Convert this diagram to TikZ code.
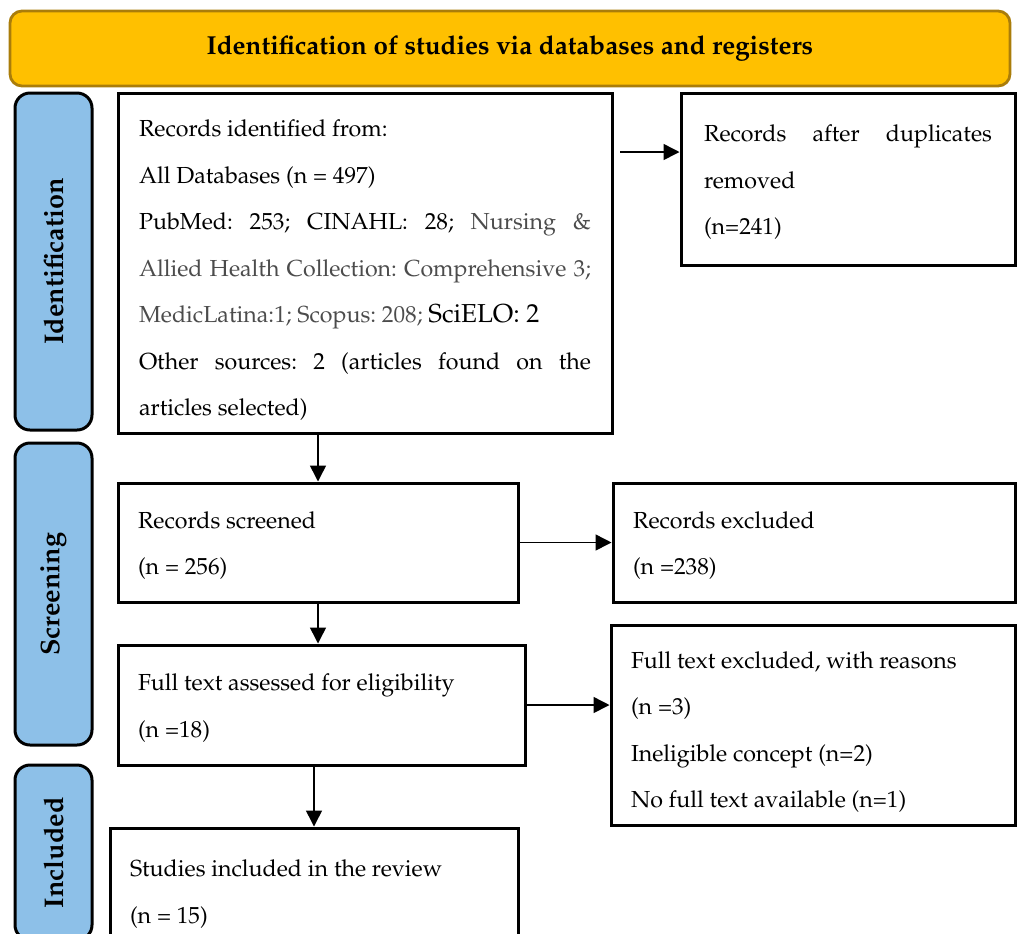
\documentclass[tikz,border=0pt]{standalone}
\usepackage[T1]{fontenc}
\usepackage{mathpazo}
\usepackage{xcolor}
\usetikzlibrary{arrows.meta}
\frenchspacing

\definecolor{headgold}{RGB}{255,192,0}
\definecolor{headedge}{RGB}{170,125,10}
\definecolor{stageblue}{RGB}{141,192,232}

\begin{document}
\begin{tikzpicture}[x=0.5pt, y=-0.5pt,
    head/.style={rectangle, rounded corners=6pt, draw=headedge, line width=1.4pt, fill=headgold, minimum width=500pt, minimum height=37.5pt, font=\fontsize{13}{16}\selectfont\bfseries},
    stage/.style={rectangle, rounded corners=7.5pt, draw, line width=1.5pt, fill=stageblue, minimum height=38.5pt, rotate=90, font=\fontsize{13.5}{16}\selectfont\bfseries},
    box/.style={rectangle, draw, line width=1.5pt, align=justify, inner xsep=0pt, font=\fontsize{11.6}{23.25}\selectfont},
    firstline/.style={execute at begin node={\rule{0pt}{#1}}},
    arrow/.style={-{Triangle[length=8pt,width=8pt]}, line width=0.75pt}
]
\path[use as bounding box, clip] (0,0) rectangle (1017,933);
\fill[white] (0,0) rectangle (1017,933);

% title bar
\node[head] (title) at (510,48.5) {Identification of studies via databases and registers};

% stages
\node[stage, minimum width=168.5pt] (identification) at (53.5,261.5) {Identification};
\node[stage, minimum width=151pt] (screening) at (53.5,594) {Screening};
\node[stage, minimum width=87.5pt] (included) at (53.5,852.5) {Included};

% boxes
\node[box, firstline=15.5pt, minimum width=247pt, minimum height=170pt, text width=226pt] (records) at (365,263) {Records identified from:\\
All Databases (n = 497)\\
PubMed: 253; CINAHL: 28; {\color{black!70}Nursing \&\linebreak
Allied Health Collection: Comprehensive 3;\linebreak
MedicLatina:1; Scopus: 208;} {\fontsize{13}{23.25}\selectfont SciELO: 2}\\
Other sources: 2 (articles found on the\linebreak
articles selected)};
\node[box, firstline=11.5pt, minimum width=167pt, minimum height=86pt, text width=144pt] (dup) at (848,179) {Records after duplicates\linebreak removed\\ (n=241)};
\node[box, firstline=11.5pt, minimum width=200pt, minimum height=59.5pt, text width=180pt] (screened) at (318,542.5) {Records screened\\ (n = 256)};
\node[box, firstline=11.5pt, minimum width=201pt, minimum height=59.5pt, text width=181pt] (excluded) at (814,542.5) {Records excluded\\ (n =238)};
\node[box, firstline=11.5pt, minimum width=203.5pt, minimum height=60pt, text width=183.5pt] (fulltext) at (321.5,705) {Full text assessed for eligibility\\ (n =18)};
\node[box, firstline=15.5pt, minimum width=202pt, minimum height=100pt, text width=182pt] (fullexcl) at (813,725) {Full text excluded, with reasons\\ (n =3)\\ Ineligible concept (n=2)\\ No full text available (n=1)};
\node[box, firstline=11.5pt, minimum width=204pt, minimum height=63pt, text width=184pt] (studies) at (314,891) {Studies included in the review\\ (n = 15)};

% arrows
\coordinate (dupfrom) at (620,152);
\draw[arrow] (dupfrom) -- (dupfrom -| dup.west);
\draw[arrow] (records.south -| screened.north) -- (screened.north);
\draw[arrow] (screened.east) -- (screened.east -| excluded.west);
\draw[arrow] (screened.south) -- (screened.south |- fulltext.north);
\draw[arrow] (fulltext.east) -- (fulltext.east -| fullexcl.west);
\draw[arrow] (studies.north |- fulltext.south) -- (studies.north);

\end{tikzpicture}
\end{document}
